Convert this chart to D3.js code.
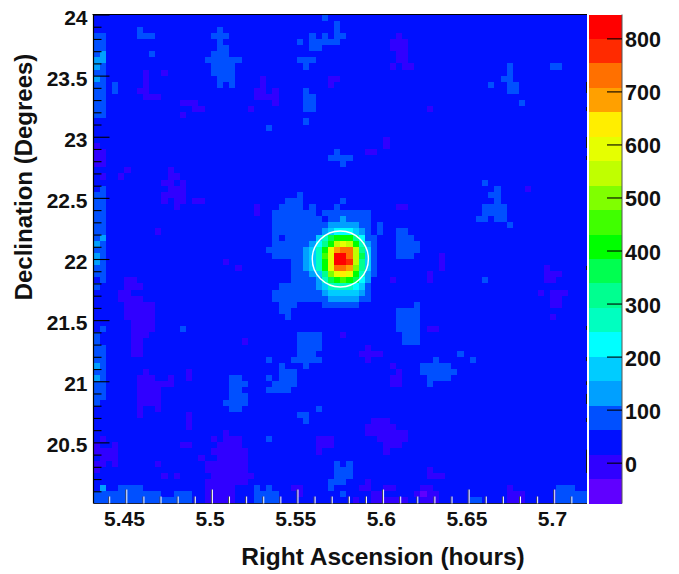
<!DOCTYPE html>
<html>
<head>
<meta charset="utf-8">
<title>Crab significance map</title>
<script src="https://cdn.jsdelivr.net/npm/d3@7"></script>
<style>
  body { margin: 0; background: #fff; }
  text { font-family: "Liberation Sans", Arial, sans-serif; font-weight: bold; fill: #111; }
  .domain { display: none; }
</style>
</head>
<body>
<svg id="map" width="679" height="574"></svg>
<script>
// Data

  // Axis ranges and ticks
  var raRange = [5.431, 5.7193],
      decRange = [20, 24],
      zRange = [-77, 845];
  var raTicks = [5.45, 5.5, 5.55, 5.6, 5.65, 5.7],
      raMinorTicks = [5.44, 5.46, 5.47, 5.48, 5.49, 5.51, 5.52, 5.53, 5.54, 5.56, 5.57, 5.58, 5.59, 5.61, 5.62, 5.63, 5.64, 5.66, 5.67, 5.68, 5.69, 5.71],
      decTicks = [20.5, 21, 21.5, 22, 22.5, 23, 23.5, 24],
      decMinorTicks = [20.1, 20.2, 20.3, 20.4, 20.6, 20.7, 20.8, 20.9, 21.1, 21.2, 21.3, 21.4, 21.6, 21.7, 21.8, 21.9, 22.1, 22.2, 22.3, 22.4, 22.6, 22.7, 22.8, 22.9, 23.1, 23.2, 23.3, 23.4, 23.6, 23.7, 23.8, 23.9],
      zTicks = [0, 100, 200, 300, 400, 500, 600, 700, 800];

  // Rainbow palette, 20 levels, bottom to top
  var palette = ['#6000ff', '#3000ff', '#0010ff', '#0050ff', '#00a0ff', '#00ccff', '#00ffff', '#00ffc0', '#00ff90', '#00ff50',
                 '#00ff00', '#40ff00', '#80ff00', '#c0ff00', '#e6ff00', '#ffee00', '#ffa000', '#ff7000', '#ff2a00', '#ff0000'];

  // 80 x 80 bins, row 0 at the top (dec 24). Everything not listed is background.
  var binCount = 80,
      backgroundValue = 38,
      lightValue = 85,
      brightValue = 130,
      indigoValue = -8,
      violetValue = -54;

  // Patches as [rowFrom, rowTo, colFrom, colTo]
  var lightPatches = [
    [3,16,0,1],[28,28,1,1],[29,42,0,1],[43,43,1,1],[44,44,0,0],[51,51,1,1],[52,53,0,0],[54,62,0,1],[63,63,0,0],[51,51,14,14],
    [0,0,37,37],[1,2,39,39],[3,3,35,35],[3,3,37,37],[3,3,39,40],[4,4,33,33],[4,4,35,39],[5,5,35,36],[7,7,33,35],[8,8,34,34],
    [12,12,34,34],[13,15,34,35],[17,17,34,34],[18,18,28,28],[22,22,39,39],[23,23,38,41],[24,24,40,40],
    [2,2,7,7],[3,3,7,9],[6,6,9,9],[11,12,3,3],
    [2,2,20,20],[3,3,19,21],[4,4,20,20],[5,5,20,21],[6,6,19,21],[7,7,18,23],[8,9,19,22],[10,10,20,22],[11,11,20,20],[11,11,22,22],
    [8,9,67,67],[10,10,66,67],[11,11,64,64],[11,12,67,68],[14,14,69,69],[8,8,74,75],
    [27,27,63,63],[28,28,65,65],[29,29,64,65],[30,30,65,65],[31,32,63,66],[33,33,62,63],[33,33,65,66],[34,34,67,67],[43,43,63,63],
    [29,29,33,33],[30,30,31,33],[30,30,40,40],[31,31,30,33],[31,31,35,35],[31,31,39,39],[32,32,29,35],[32,32,37,44],
    [33,33,29,36],[33,33,38,39],[33,33,41,44],[34,34,29,34],[34,34,46,46],[35,35,29,34],[35,35,46,46],[35,35,49,50],
    [36,36,29,29],[36,36,31,34],[36,36,45,45],[36,36,49,51],[37,38,29,34],[37,38,45,45],[37,38,49,52],[38,38,28,28],
    [39,39,29,34],[39,39,45,45],[39,39,49,51],[40,43,32,34],[40,42,45,45],[44,44,30,34],[45,45,29,34],[46,46,29,34],
    [47,47,30,32],[48,48,30,31],[49,49,31,31],
    [47,47,52,52],[48,51,49,52],[52,53,50,52],
    [52,54,33,36],[55,55,33,35],[56,56,32,36],[57,57,34,34],[56,56,28,28],[57,57,30,30],[58,58,30,32],[59,59,28,28],[59,59,30,32],
    [60,60,29,32],[61,61,28,31],[64,64,36,36],[65,65,33,34],[66,66,34,34],[69,69,28,28],
    [57,57,53,57],[58,58,53,58],[59,59,54,57],[60,60,54,54],[55,55,59,59],[56,56,55,55],[56,56,61,61],
    [59,59,22,23],[60,60,22,24],[61,61,22,23],[62,62,22,24],[63,63,21,24],[64,64,22,23],
    [73,73,39,39],[73,73,41,41],[74,75,39,41],[76,76,38,40],[77,77,38,38],[78,78,40,40],[77,77,28,28],[78,79,26,29],
    [77,77,4,7],[78,79,0,10],[78,79,13,15],[79,79,11,12],[77,77,26,26],[77,77,75,77],[78,79,75,79],[79,79,61,62]
  ];
  var brightPatches = [[6,6,1,1],[7,8,0,0],[7,7,1,1],[10,10,0,0],[36,36,1,1],[37,37,0,0],[39,40,0,0],[57,57,0,0],[59,59,0,0],[77,77,1,1],[33,33,40,40],[38,41,34,34]];
  var indigoPatches = [
    [9,11,8,8],[12,12,7,8],[13,13,8,10],[9,9,11,11],[14,14,14,16],[15,15,16,17],[16,16,14,14],[15,15,25,25],[12,13,26,26],
    [10,13,27,27],[12,14,29,29],[13,13,28,28],[10,10,38,39],[11,11,38,38],[3,3,49,49],[4,5,48,50],[6,7,49,50],[8,8,48,48],[8,8,50,51],
    [15,15,54,54],[20,21,47,47],[22,22,44,45],
    [21,21,0,0],[22,24,0,1],[25,25,5,5],[25,25,12,12],[26,26,1,1],[26,26,4,4],[26,26,12,13],[27,27,11,12],[27,27,14,14],[28,28,12,14],
    [29,29,11,14],[30,30,11,11],[30,30,13,14],[30,30,16,17],[31,31,13,13],[31,32,26,26],[35,35,10,10],[40,40,21,21],[41,41,23,23],
    [43,43,5,6],[44,44,5,7],[45,45,4,5],[46,46,4,7],[47,49,5,9],[50,51,6,9],[52,52,6,8],[53,53,6,7],[54,55,6,7],[53,53,24,24],
    [58,58,8,8],[59,59,7,9],[60,60,7,12],[59,59,12,12],[58,59,15,15],[61,63,7,10],[64,64,7,7],[64,64,10,10],[65,65,7,7],[65,67,15,15],
    [69,69,1,1],[70,70,0,0],[70,70,3,3],[71,71,0,3],[72,72,1,3],[73,73,0,1],[73,73,3,3],[74,74,0,0],[70,70,14,15],
    [68,68,21,21],[69,69,19,19],[69,69,21,23],[70,70,20,23],[71,71,19,24],[72,72,20,24],[72,72,17,17],[73,74,18,24],[73,73,10,10],
    [75,75,19,25],[75,75,11,11],[75,75,13,13],[76,76,18,24],[77,79,18,22],
    [52,52,40,40],[51,51,54,54],[54,54,44,44],[55,55,43,46],[56,56,44,44],[57,57,48,48],[58,58,49,49],[59,60,48,49],[66,66,45,47],
    [67,67,44,48],[68,68,44,50],[69,69,46,50],[70,70,47,49],[71,71,47,47],[69,70,36,38],[71,71,36,36],[74,75,54,54],[76,76,44,44],
    [77,77,43,44],[77,77,47,48],[77,77,32,33],[78,78,33,33],[78,78,45,46],[78,78,52,54],[79,79,42,42],[79,79,45,50],[77,77,53,54],
    [78,78,54,55],[79,79,53,55],[75,75,54,56],[77,77,67,67],[78,79,67,69],[43,43,48,48],[31,31,49,50],
    [28,28,70,70],[39,41,56,56],[42,43,54,54],[41,41,73,73],[42,42,73,75],[43,43,73,74],[45,45,72,72],[45,45,74,76],[46,47,74,75],
    [49,49,74,74],[51,51,54,55]
  ];
  var violetPatches = [[78,78,53,53]];

  // The source itself: rows 34-47, cols 35-44
  var peakFirstRow = 34,
      peakFirstCol = 35;
  var peakValues = [
    [ 85,  85,  85, 130, 130, 130, 130, 130,  85,  85],
    [ 85,  85, 130, 176, 222, 222, 222, 176, 130,  85],
    [ 85, 176, 268, 360, 406, 406, 406, 314, 222,  85],
    [130, 222, 314, 406, 544, 590, 544, 406, 268, 130],
    [176, 268, 406, 590, 683, 729, 729, 544, 314, 176],
    [176, 268, 452, 590, 821, 821, 729, 544, 360, 176],
    [176, 268, 406, 590, 821, 821, 775, 544, 314, 176],
    [176, 268, 406, 590, 729, 729, 683, 498, 314, 176],
    [130, 176, 314, 498, 590, 637, 590, 406, 268, 130],
    [ 85, 130, 268, 360, 406, 452, 406, 360, 222, 130],
    [ 85, 130, 176, 268, 268, 268, 268, 222, 176,  85],
    [ 85,  85, 130, 176, 176, 176, 176, 176, 130,  85],
    [ 85,  85,  85, 130, 130, 130, 130, 130,  85,  85],
    [ 38,  38,  85,  85,  85,  85,  85,  85,  38,  38]
  ];

  // Source position and the white circle around it
  var sourceRa = 5.5752,
      sourceDec = 22,
      circleRa = 0.0164,
      circleDec = 0.229;

  // Short black bits left on the right-hand edge, dec from / to
  var edgeBits = [[23.448,23.358],[23.243,23.21],[22.998,22.908],[22.842,22.81],[21.943,21.91],[21.452,21.42],[21.198,21.165],[21,20.97],[20.896,20.814],[20.7,20.667],[20.44,20.25]];

// Set up

  var plot = {left: 93.5, right: 587, top: 14.5, bottom: 503.5},
      bar = {left: 589, right: 622};

  var x = d3.scaleLinear().domain(raRange).range([plot.left, plot.right]),
      y = d3.scaleLinear().domain(decRange).range([plot.bottom, plot.top]),
      z = d3.scaleLinear().domain(zRange).range([plot.bottom, plot.top]);

  // bin index to pixel edge
  var col = d3.scaleLinear().domain([0, binCount]).range([plot.left, plot.right]),
      row = d3.scaleLinear().domain([0, binCount]).range([plot.top, plot.bottom]);

  var color = d3.scaleQuantize().domain(zRange).range(palette);

  var svg = d3.select('#map');

// Fill the grid

  var grid = d3.range(binCount).map(function () {
    return d3.range(binCount).map(function () { return backgroundValue; });
  });

  function stamp (patches, value) {
    patches.forEach(function (p) {
      for (var r = p[0]; r <= p[1]; r++) {
        for (var c = p[2]; c <= p[3]; c++) { grid[r][c] = value; }
      }
    });
  }
  stamp(lightPatches, lightValue);
  stamp(brightPatches, brightValue);
  stamp(indigoPatches, indigoValue);
  stamp(violetPatches, violetValue);

  peakValues.forEach(function (vals, i) {
    vals.forEach(function (v, j) { grid[peakFirstRow + i][peakFirstCol + j] = v; });
  });

  var cells = [];
  grid.forEach(function (vals, r) {
    vals.forEach(function (v, c) { cells.push({r: r, c: c, v: v}); });
  });

// Draw cells

  svg.append('g').attr('shape-rendering', 'crispEdges')
    .selectAll('rect')
    .data(cells)
    .enter().append('rect')
    .attr('x', function (d) { return Math.round(col(d.c)); })
    .attr('y', function (d) { return Math.round(row(d.r)); })
    .attr('width', function (d) { return Math.round(col(d.c + 1)) - Math.round(col(d.c)); })
    .attr('height', function (d) { return Math.round(row(d.r + 1)) - Math.round(row(d.r)); })
    .attr('fill', function (d) { return color(d.v); });

// Source circle and marker

  svg.append('ellipse')
    .attr('cx', x(sourceRa)).attr('cy', y(sourceDec))
    .attr('rx', x(sourceRa + circleRa) - x(sourceRa))
    .attr('ry', y(sourceDec) - y(sourceDec + circleDec))
    .attr('fill', 'none').attr('stroke', '#fff').attr('stroke-width', 1.4);

  svg.append('path')
    .attr('transform', 'translate(' + x(sourceRa) + ',' + y(sourceDec) + ')')
    .attr('d', d3.symbol(d3.symbolTimes, 22))
    .attr('fill', '#fff');

// Frame

  svg.append('line').attr('x1', plot.left - 1).attr('x2', plot.right).attr('y1', plot.top).attr('y2', plot.top)
    .attr('stroke', '#000').attr('stroke-width', 1.2);
  svg.append('line').attr('x1', plot.left).attr('x2', plot.left).attr('y1', plot.top).attr('y2', plot.bottom)
    .attr('stroke', '#000').attr('stroke-width', 1.2);
  svg.append('line').attr('x1', plot.left).attr('x2', plot.right).attr('y1', plot.bottom).attr('y2', plot.bottom)
    .attr('stroke', '#223').attr('stroke-width', 1.2);

  svg.append('g').selectAll('line')
    .data(edgeBits)
    .enter().append('line')
    .attr('x1', plot.right - 0.5).attr('x2', plot.right - 0.5)
    .attr('y1', function (d) { return y(d[0]); })
    .attr('y2', function (d) { return y(d[1]); })
    .attr('stroke', '#111').attr('stroke-width', 1);

// Axes - bottom ticks point inward, white with a dark edge

  function bottomTicks (shift, stroke) {
    var g = svg.append('g').attr('transform', 'translate(' + shift + ',' + plot.bottom + ')');
    g.call(d3.axisBottom(x).tickValues(raTicks).tickSize(-14).tickFormat(''));
    g.append('g').call(d3.axisBottom(x).tickValues(raMinorTicks).tickSize(-7).tickFormat(''));
    g.selectAll('line').attr('stroke', stroke);
  }
  bottomTicks(-0.7, '#445');
  bottomTicks(0.3, '#fff');

  var xLabels = svg.append('g').attr('transform', 'translate(0,' + plot.bottom + ')')
    .call(d3.axisBottom(x).tickValues(raTicks).tickSize(0).tickFormat(d3.format('')));
  xLabels.selectAll('text').attr('font-size', 21).attr('y', 22.5).attr('dx', -2).attr('dy', 0);

  var yAxis = svg.append('g').attr('transform', 'translate(' + plot.left + ',0)');
  yAxis.call(d3.axisLeft(y).tickValues(decTicks).tickSize(-16).tickPadding(6).tickFormat(d3.format('')));
  yAxis.append('g').call(d3.axisLeft(y).tickValues(decMinorTicks).tickSize(-8).tickFormat(''));
  yAxis.selectAll('line').attr('stroke', '#000').attr('stroke-width', 1.1);
  yAxis.selectAll('text').attr('font-size', 21).attr('dy', 9.5);

// Colour bar

  var bands = color.range().map(function (c) {
    var e = color.invertExtent(c);
    return {c: c, lo: e[0], hi: e[1]};
  });

  svg.append('g').attr('shape-rendering', 'crispEdges')
    .selectAll('rect')
    .data(bands)
    .enter().append('rect')
    .attr('x', bar.left).attr('width', bar.right - bar.left)
    .attr('y', function (d) { return Math.round(z(d.hi)); })
    .attr('height', function (d) { return Math.round(z(d.lo)) - Math.round(z(d.hi)); })
    .attr('fill', function (d) { return d.c; });

  svg.append('line').attr('x1', bar.right).attr('x2', bar.right).attr('y1', plot.top).attr('y2', plot.bottom)
    .attr('stroke', '#555').attr('stroke-width', 1);

  var zAxis = svg.append('g').attr('transform', 'translate(' + bar.right + ',0)');
  zAxis.call(d3.axisRight(z).tickValues(zTicks).tickSize(-15).tickPadding(3).tickFormat(d3.format('d')));
  zAxis.selectAll('line').attr('stroke', '#000').attr('stroke-width', 1.1);
  zAxis.selectAll('text').attr('font-size', 21.5).attr('dy', 8.5);

// Titles

  svg.append('text').attr('x', 383).attr('y', 565).attr('text-anchor', 'middle').attr('font-size', 24.5)
    .text('Right Ascension (hours)');
  svg.append('text').attr('transform', 'translate(32,177) rotate(-90)').attr('text-anchor', 'middle').attr('font-size', 24)
    .text('Declination (Degrees)');

  svg.selectAll('g text').style('font-family', '"Liberation Sans", Arial, sans-serif').style('fill', '#111');
</script>
</body>
</html>
